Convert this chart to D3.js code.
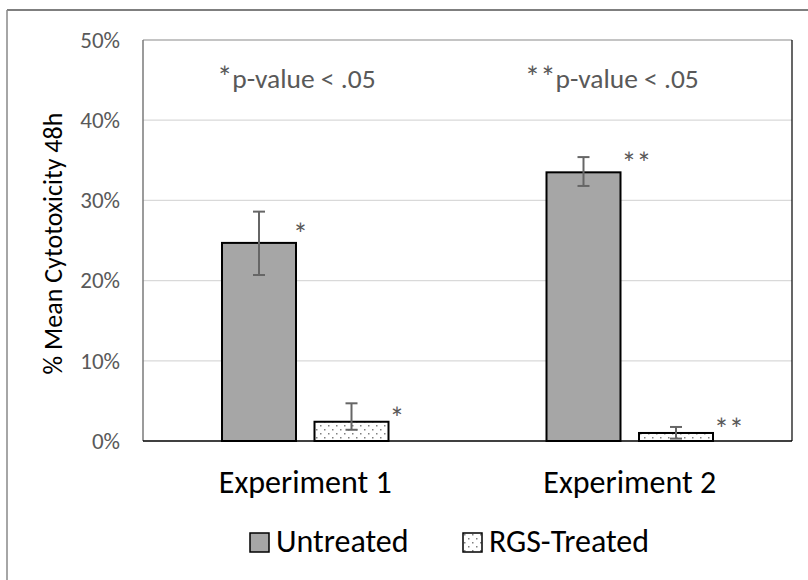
<!DOCTYPE html>
<html>
<head>
<meta charset="utf-8">
<script src="https://cdn.jsdelivr.net/npm/d3@7"></script>
<style>
  body { margin: 0; background: #fff; }
  svg { font-family: Carlito, Calibri, "Open Sans", sans-serif; }
</style>
</head>
<body>
<div id="chart"></div>
<script>
// data
var experiments = ["Experiment 1", "Experiment 2"];
var seriesNames = ["Untreated", "RGS-Treated"];
var untreated = [24.7, 33.5];
var untreatedHi = [28.6, 35.4];
var untreatedLo = [20.7, 31.8];
var rgsTreated = [2.4, 1.0];
var rgsHi = [4.7, 1.75];
var rgsLo = [1.4, 0.3];
var marks = [["*", "*"], ["**", "**"]];
var noteStars = ["*", "**"];
var noteText = "p-value < .05";
var yTicks = [0, 10, 20, 30, 40, 50];

var FONT = "Carlito, Calibri, 'Open Sans', sans-serif";
var W = 808, H = 580;
var margin = {top: 40, right: 16, bottom: 139, left: 143},
  width = W - margin.left - margin.right,
  height = H - margin.top - margin.bottom;

var svg = d3.select("#chart").append("svg")
  .attr("width", W).attr("height", H);

var defs = svg.append("defs");
var pat = defs.append("pattern")
  .attr("id", "dots")
  .attr("patternUnits", "userSpaceOnUse")
  .attr("width", 8).attr("height", 8);
pat.append("rect").attr("width", 8).attr("height", 8).attr("fill", "#fff");
pat.append("rect").attr("x", 1).attr("y", 1).attr("width", 1.5).attr("height", 1.5).attr("fill", "#808080");
pat.append("rect").attr("x", 5).attr("y", 5).attr("width", 1.5).attr("height", 1.5).attr("fill", "#808080");

// outer frame (runs off the right/bottom edges)
svg.append("line").attr("x1", 7).attr("y1", 10).attr("x2", W).attr("y2", 10)
  .attr("stroke", "#000").attr("stroke-width", 1.2);
svg.append("line").attr("x1", 7).attr("y1", 10).attr("x2", 7).attr("y2", H)
  .attr("stroke", "#888").attr("stroke-width", 1.5);

var g = svg.append("g")
  .attr("transform", "translate(" + margin.left + "," + margin.top + ")");

var x0 = d3.scaleBand().domain(experiments).range([0, width]);
var x1 = d3.scaleBand().domain(seriesNames).range([79, x0.bandwidth() - 79]).paddingInner(0.2);
var y = d3.scaleLinear().domain([0, 50]).range([height, 0]);

// gridlines
g.selectAll(".grid").data(yTicks.slice(1, -1)).enter().append("line")
  .attr("class", "grid")
  .attr("x1", 0).attr("x2", width)
  .attr("y1", d => y(d)).attr("y2", d => y(d))
  .attr("stroke", "#d9d9d9").attr("stroke-width", 1.2);

// plot area frame
g.append("line").attr("x1", 0).attr("x2", width).attr("y1", 0).attr("y2", 0)
  .attr("stroke", "#8a8a8a").attr("stroke-width", 1.2);
g.append("line").attr("x1", 0).attr("x2", 0).attr("y1", 0).attr("y2", height)
  .attr("stroke", "#7a7a7a").attr("stroke-width", 1.5);
g.append("line").attr("x1", width).attr("x2", width).attr("y1", 0).attr("y2", height)
  .attr("stroke", "#000").attr("stroke-width", 1.2);

// y axis labels
var yAxis = d3.axisLeft(y).tickValues(yTicks).tickFormat(d => d + "%").tickSize(0).tickPadding(23);
var ya = g.append("g").call(yAxis);
ya.select(".domain").remove();
ya.selectAll("text").attr("font-size", 23).attr("fill", "#595959")
  .attr("font-family", FONT);

// axis title
svg.append("text")
  .attr("transform", "translate(62," + (margin.top + height / 2 + 3) + ") rotate(-90)")
  .attr("text-anchor", "middle")
  .attr("font-size", 26).attr("fill", "#000")
  .text("% Mean Cytotoxicity 48h");

// bars
var rows = experiments.map(function (e, i) {
  return [
    {exp: e, s: "Untreated", v: untreated[i], hi: untreatedHi[i], lo: untreatedLo[i], m: marks[i][0]},
    {exp: e, s: "RGS-Treated", v: rgsTreated[i], hi: rgsHi[i], lo: rgsLo[i], m: marks[i][1]}
  ];
});
var flat = [].concat.apply([], rows);
var bx = d => x0(d.exp) + x1(d.s);

g.selectAll(".bar").data(flat).enter().append("rect")
  .attr("class", "bar")
  .attr("x", bx)
  .attr("y", d => y(d.v))
  .attr("width", x1.bandwidth())
  .attr("height", d => height - y(d.v))
  .attr("fill", d => d.s == "Untreated" ? "#a6a6a6" : "url(#dots)")
  .attr("stroke", "#000").attr("stroke-width", 2);

// error bars
var eb = g.selectAll(".err").data(flat).enter().append("g").attr("class", "err")
  .attr("stroke", "#666").attr("stroke-width", 2);
eb.append("line")
  .attr("x1", d => bx(d) + x1.bandwidth() / 2).attr("x2", d => bx(d) + x1.bandwidth() / 2)
  .attr("y1", d => y(d.hi)).attr("y2", d => y(d.lo));
eb.append("line")
  .attr("x1", d => bx(d) + x1.bandwidth() / 2 - 6).attr("x2", d => bx(d) + x1.bandwidth() / 2 + 6)
  .attr("y1", d => y(d.hi)).attr("y2", d => y(d.hi));
eb.append("line")
  .attr("x1", d => bx(d) + x1.bandwidth() / 2 - 6).attr("x2", d => bx(d) + x1.bandwidth() / 2 + 6)
  .attr("y1", d => y(d.lo)).attr("y2", d => y(d.lo));

// base axis line
g.append("line").attr("x1", 0).attr("x2", width).attr("y1", height).attr("y2", height)
  .attr("stroke", "#000").attr("stroke-width", 1.5);

// asterisks
g.selectAll(".mark").data(flat).enter().append("text")
  .attr("class", "mark")
  .attr("x", d => bx(d) + x1.bandwidth() + (d.exp == experiments[0] && d.s == "Untreated" ? -3 : 1))
  .attr("y", d => y(d.v) + (d.s == "Untreated" ? 2 : 7))
  .attr("font-size", 30).attr("fill", "#595959")
  .text(d => d.m);

// p-value notes
var notes = g.selectAll(".note").data(experiments).enter().append("text")
  .attr("class", "note")
  .attr("x", (d, i) => x0(d) + x0.bandwidth() / 2 - (i == 0 ? 9 : 18))
  .attr("y", 48)
  .attr("text-anchor", "middle")
  .attr("font-size", 27.5).attr("fill", "#595959");
notes.append("tspan").attr("font-size", 31).text((d, i) => noteStars[i]);
notes.append("tspan").text(noteText);

// x labels
var xAxis = d3.axisBottom(x0).tickSize(0).tickPadding(29);
var xa = g.append("g").attr("transform", "translate(0," + height + ")").call(xAxis);
xa.select(".domain").remove();
xa.selectAll("text").attr("font-size", 32).attr("fill", "#000")
  .attr("font-family", FONT);

// legend
var legX = [250, 463];
var leg = svg.selectAll(".leg").data(seriesNames).enter().append("g")
  .attr("class", "leg")
  .attr("transform", (d, i) => "translate(" + legX[i] + ",533)");
leg.append("rect").attr("width", 19).attr("height", 19)
  .attr("fill", (d, i) => i == 0 ? "#a6a6a6" : "url(#dots)")
  .attr("stroke", "#000").attr("stroke-width", 1.5);
leg.append("text").attr("x", 26).attr("y", 19)
  .attr("font-size", 32).attr("fill", "#000")
  .text(d => d);
</script>
</body>
</html>
